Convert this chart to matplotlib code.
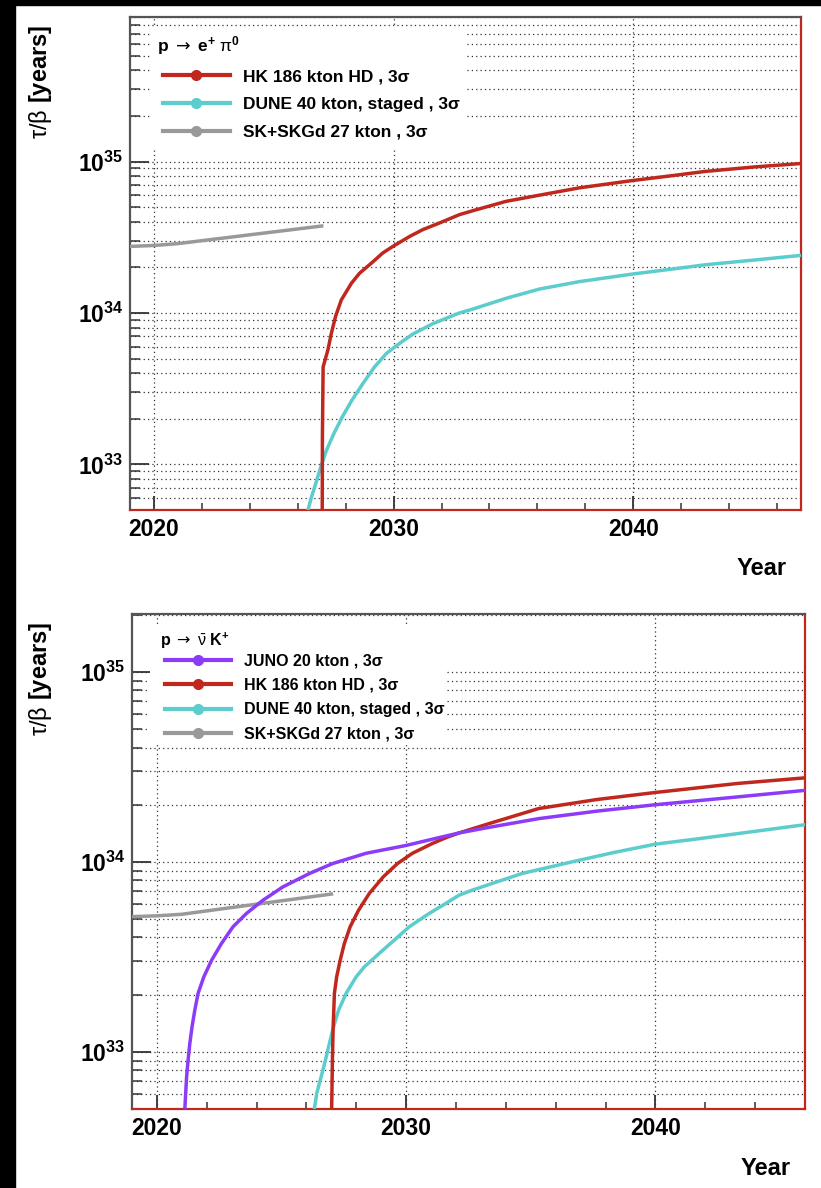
import numpy as np
import matplotlib
matplotlib.use("Agg")
from matplotlib import pyplot as plt
from matplotlib.lines import Line2D
from matplotlib.patches import Rectangle
from matplotlib.ticker import LogLocator, FixedLocator, FuncFormatter, NullFormatter

plt.rcParams['font.family'] = ['Liberation Sans', 'DejaVu Sans']
plt.rcParams['mathtext.fontset'] = 'custom'
plt.rcParams['mathtext.rm'] = 'Liberation Sans'
plt.rcParams['mathtext.bf'] = 'Liberation Sans:bold'
plt.rcParams['mathtext.it'] = 'Liberation Sans:italic'
plt.rcParams['mathtext.sf'] = 'DejaVu Sans'

# ---- data ----
# p -> e+ pi0
hk_e_years = [2027.0, 2027.03, 2027.06, 2027.26, 2027.40, 2027.58, 2027.82, 2028.24, 2028.58,
              2029.07, 2029.55, 2029.97, 2030.67, 2031.22, 2031.92, 2032.75, 2033.3, 2034.7,
              2036.1, 2037.75, 2040.0, 2041.64, 2043.0, 2045.1, 2047.0]
hk_e_vals = [1e31, 1.5e33, 4.4e33, 5.7e33, 7.3e33, 9.5e33, 1.22e34, 1.57e34, 1.83e34,
             2.13e34, 2.49e34, 2.75e34, 3.2e34, 3.55e34, 3.93e34, 4.46e34, 4.73e34, 5.46e34,
             6.0e34, 6.7e34, 7.5e34, 8.07e34, 8.6e34, 9.22e34, 9.7e34]
dune_e_years = [2026.3, 2026.43, 2026.57, 2026.75, 2026.96, 2027.2, 2027.51, 2027.86, 2028.26,
                2028.72, 2029.21, 2029.7, 2030.25, 2030.8, 2031.64, 2032.75, 2033.3, 2034.7,
                2036.1, 2037.75, 2040.0, 2041.64, 2043.0, 2045.1, 2047.0]
dune_e_vals = [3e32, 5.0e32, 6.07e32, 7.45e32, 9.6e32, 1.24e33, 1.6e33, 2.06e33, 2.65e33,
               3.42e33, 4.41e33, 5.4e33, 6.3e33, 7.25e33, 8.5e33, 1.0e34, 1.06e34, 1.25e34,
               1.44e34, 1.61e34, 1.81e34, 1.95e34, 2.08e34, 2.24e34, 2.4e34]
sk_e_years = [2019, 2020, 2021, 2027]
sk_e_vals = [2.75e34, 2.79e34, 2.87e34, 3.75e34]

# p -> nubar K+
juno_k_years = [2021.08, 2021.12, 2021.19, 2021.25, 2021.32, 2021.41, 2021.52, 2021.65, 2021.88,
                2022.19, 2022.59, 2023.05, 2023.59, 2024.25, 2025.05, 2026.12, 2027.05, 2028.39,
                2029.99, 2031.19, 2032.12, 2033.32, 2035.32, 2037.65, 2040.0, 2043.32, 2046.0]
juno_k_vals = [3e32, 5.04e32, 7.4e32, 9.04e32, 1.11e33, 1.36e33, 1.66e33, 2.03e33, 2.48e33,
               3.03e33, 3.72e33, 4.55e33, 5.35e33, 6.28e33, 7.38e33, 8.69e33, 9.8e33, 1.11e34,
               1.22e34, 1.33e34, 1.42e34, 1.52e34, 1.69e34, 1.85e34, 2.0e34, 2.2e34, 2.38e34]
hk_k_years = [2027.0, 2027.01, 2027.04, 2027.07, 2027.12, 2027.21, 2027.35, 2027.52, 2027.75,
              2028.09, 2028.52, 2029.08, 2029.65, 2030.25, 2031.05, 2031.65, 2032.12, 2033.32,
              2035.32, 2037.65, 2040.0, 2043.32, 2046.0]
hk_k_vals = [1e31, 5.04e32, 9.0e32, 1.36e33, 2.03e33, 2.48e33, 3.03e33, 3.72e33, 4.55e33,
             5.57e33, 6.82e33, 8.34e33, 9.8e33, 1.11e34, 1.25e34, 1.35e34, 1.42e34, 1.59e34,
             1.91e34, 2.13e34, 2.32e34, 2.59e34, 2.77e34]
dune_k_years = [2026.25, 2026.32, 2026.41, 2026.59, 2026.76, 2026.92, 2027.09, 2027.29, 2027.59,
                2027.99, 2028.32, 2028.92, 2029.52, 2030.12, 2030.92, 2031.59, 2032.12, 2032.65,
                2034.65, 2036.65, 2038.32, 2040.0, 2041.65, 2043.32, 2046.0]
dune_k_vals = [3e32, 5.04e32, 6.04e32, 7.4e32, 9.04e32, 1.11e33, 1.36e33, 1.66e33, 2.03e33,
               2.48e33, 2.8e33, 3.3e33, 3.87e33, 4.55e33, 5.35e33, 6.04e33, 6.68e33, 7.1e33,
               8.69e33, 1.0e34, 1.12e34, 1.24e34, 1.32e34, 1.41e34, 1.57e34]
sk_k_years = [2019, 2020, 2021, 2027]
sk_k_vals = [5.15e33, 5.2e33, 5.3e33, 6.77e33]

RED = '#c0281e'
CYAN = '#5ccccc'
GRAY = '#999999'
PURPLE = '#8c3cf8'
FRAME = '#555555'

HEADER_E = r'p $\mathsf{\rightarrow}$ e$^{\mathbf{+}}$ $\mathrm{\pi}^{\mathbf{0}}$'
HEADER_K = r'p $\mathsf{\rightarrow}$ $\bar{\mathrm{\nu}}$ K$^{\mathbf{+}}$'
LBL_JUNO = 'JUNO 20 kton , 3σ'
LBL_HK = 'HK 186 kton HD , 3σ'
LBL_DUNE = 'DUNE 40 kton, staged , 3σ'
LBL_SK = 'SK+SKGd 27 kton , 3σ'

FAMILY = ['Liberation Sans', 'DejaVu Sans']


def style_axes(ax, xmax, ymax):
    ax.set_xlim(2019, xmax)
    ax.set_yscale('log')
    ax.set_ylim(5e32, ymax)

    ax.xaxis.set_major_locator(FixedLocator([2020, 2030, 2040]))
    ax.xaxis.set_minor_locator(FixedLocator(np.arange(2020, xmax + 0.1, 2)))
    ax.yaxis.set_major_locator(LogLocator(base=10))
    ax.yaxis.set_minor_locator(LogLocator(base=10, subs=np.arange(2, 10)))
    ax.yaxis.set_major_formatter(FuncFormatter(lambda v, p: r'$\mathbf{10^{%d}}$' % round(np.log10(v))))
    ax.yaxis.set_minor_formatter(NullFormatter())

    ax.tick_params(axis='both', which='both', direction='in', colors='#333333',
                   top=False, right=False, labelsize=16.5)
    ax.tick_params(axis='y', which='major', length=14, width=1.3, pad=5)
    ax.tick_params(axis='y', which='minor', length=7, width=1.1)
    ax.tick_params(axis='x', which='major', length=10, width=1.3, pad=6)
    ax.tick_params(axis='x', which='minor', length=5, width=1.1)
    for lab in ax.get_xticklabels() + ax.get_yticklabels():
        lab.set_fontweight('bold')
        lab.set_color('black')

    ax.grid(True, which='major', axis='x', color='#333333', linestyle=(0, (1, 2.5)), linewidth=0.9)
    ax.grid(True, which='both', axis='y', color='#333333', linestyle=(0, (1, 2.5)), linewidth=0.9)
    ax.set_axisbelow(True)

    ax.spines['left'].set_color(FRAME)
    ax.spines['top'].set_color(FRAME)
    ax.spines['bottom'].set_color(RED)
    ax.spines['right'].set_color(RED)
    for s in ax.spines.values():
        s.set_linewidth(1.6)

    ax.set_ylabel(r'$\mathrm{\tau/\beta}$ [years]', fontsize=17, fontweight='bold', loc='top')
    ax.set_xlabel('Year', fontsize=17, fontweight='bold', loc='right')


def add_legend(ax, header, labels, colors, size, spacing, box, head_xy, leg_xy, hlen):
    # white legend pad (hides the grid like the ROOT TLegend does)
    x0, y0, x1, y1 = box
    ax.add_patch(Rectangle((x0, y0), x1 - x0, y1 - y0, transform=ax.transAxes,
                           facecolor='white', edgecolor='none', zorder=4))
    ax.text(head_xy[0], head_xy[1], header, transform=ax.transAxes, ha='left', va='center',
            family=FAMILY, fontweight='bold', fontsize=size, zorder=6)
    handles = [Line2D([], [], color=c, lw=3, marker='o', ms=7) for c in colors]
    leg = ax.legend(handles, labels, loc='center left', bbox_to_anchor=leg_xy,
                    borderaxespad=0, borderpad=0, frameon=False,
                    prop={'family': FAMILY, 'weight': 'bold', 'size': size},
                    handlelength=hlen, handletextpad=0.78, labelspacing=spacing)
    leg.set_zorder(6)


fig = plt.figure(figsize=(8.21, 11.88), dpi=100)

# top panel: p -> e+ pi0
ax1 = fig.add_axes([0.1583, 0.5707, 0.8173, 0.4150])
ax1.plot(sk_e_years, sk_e_vals, color=GRAY, lw=2.5, zorder=3)
ax1.plot(dune_e_years, dune_e_vals, color=CYAN, lw=2.5, zorder=3)
ax1.plot(hk_e_years, hk_e_vals, color=RED, lw=2.5, zorder=3)
style_axes(ax1, 2047, 9e35)
ax1.yaxis.set_label_coords(-0.113, 0.985)
ax1.xaxis.set_label_coords(0.978, -0.095)
add_legend(ax1, HEADER_E, [LBL_HK, LBL_DUNE, LBL_SK], [RED, CYAN, GRAY], 12.5, 0.72,
           box=(0.030, 0.730, 0.499, 0.978), head_xy=(0.040, 0.943),
           leg_xy=(0.049, 0.8225), hlen=3.85)

# bottom panel: p -> nubar K+
ax2 = fig.add_axes([0.1608, 0.0665, 0.8197, 0.4167])
ax2.plot(sk_k_years, sk_k_vals, color=GRAY, lw=2.5, zorder=3)
ax2.plot(dune_k_years, dune_k_vals, color=CYAN, lw=2.5, zorder=3)
ax2.plot(hk_k_years, hk_k_vals, color=RED, lw=2.5, zorder=3)
ax2.plot(juno_k_years, juno_k_vals, color=PURPLE, lw=2.5, zorder=3)
style_axes(ax2, 2046, 2.02e35)
ax2.yaxis.set_label_coords(-0.116, 0.984)
ax2.xaxis.set_label_coords(0.978, -0.097)
add_legend(ax2, HEADER_K, [LBL_JUNO, LBL_HK, LBL_DUNE, LBL_SK], [PURPLE, RED, CYAN, GRAY], 11.5, 0.58,
           box=(0.027, 0.735, 0.466, 0.974), head_xy=(0.0416, 0.945),
           leg_xy=(0.049, 0.831), hlen=4.15)

# black strips at left and top edges of the screenshot
fig.add_artist(Rectangle((0, 0), 15 / 821, 1, transform=fig.transFigure, color='black', zorder=10))
fig.add_artist(Rectangle((0, 1 - 5 / 1188), 1, 5 / 1188, transform=fig.transFigure, color='black', zorder=10))

fig.savefig('out.png', dpi=100)
